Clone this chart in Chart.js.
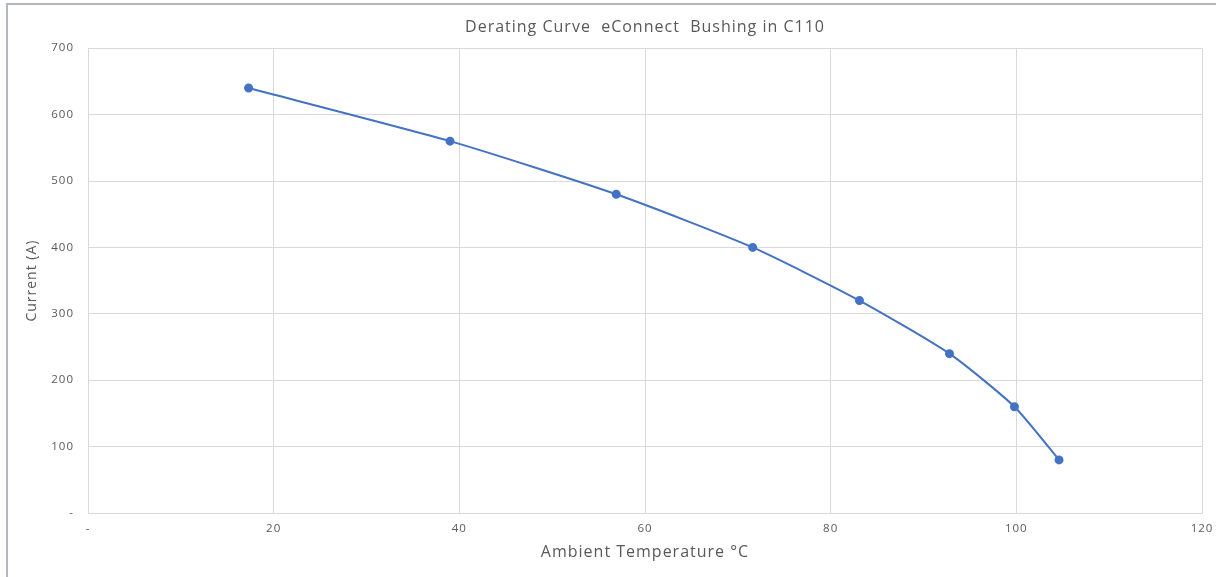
<!DOCTYPE html>
<html>
<head>
<meta charset="utf-8">
<script src="https://cdn.jsdelivr.net/npm/chart.js@4"></script>
<style>
    html, body { margin: 0; padding: 0; background: #fff; overflow: hidden; }
    #frame { position: absolute; left: 6px; top: 3px; width: 1240px; height: 600px; border-left: 2px solid #b4b8be; border-top: 2px solid #b4b8be; }
    #wrap { position: absolute; left: 0; top: 0; width: 1216px; height: 577px; }
</style>
</head>
<body>
<div id="frame"></div>
<div id="wrap"><canvas id="visualChart"></canvas></div>
<script>
const temperatures = [17.3, 39.0, 56.9, 71.6, 83.1, 92.8, 99.8, 104.6];
const currents = [640, 560, 480, 400, 320, 240, 160, 80];
const chartTitle = "Derating Curve  eConnect  Bushing in C110";
const xTitle = "Ambient Temperature °C";
const yTitle = "Current (A)";

const fontFamily = "'Open Sans', sans-serif";
const textColor = '#595959';
const gridColor = '#d9d9d9';

const points = temperatures.map((t, i) => ({ x: t, y: currents[i] }));

const dashZero = (value) => value === 0 ? '-' : value;

// the original text is drawn quite wide, so spread the letters a bit
// (canvas resize wipes the context state, so set it again before layout and draw)
const spacing = {
    id: 'spacing',
    beforeUpdate: (chart) => { chart.ctx.letterSpacing = '1px'; },
    beforeDraw: (chart) => { chart.ctx.letterSpacing = '1px'; }
};

const chartBlock = document.querySelector('#visualChart').getContext('2d');

const chart = new Chart(chartBlock, {
    type: 'line',
    plugins: [spacing],
    data: {
        datasets: [
            {
                label: "Current",
                data: points,
                borderColor: '#4472c4',
                backgroundColor: '#4472c4',
                borderWidth: 2,
                pointRadius: 3.5,
                pointHoverRadius: 3.5,
                tension: 0.2,
                fill: false
            }
        ]
    },
    options: {
        responsive: true,
        maintainAspectRatio: false,
        animation: false,
        layout: { padding: { left: 24, right: 14, top: 0, bottom: 15 } },
        plugins: {
            legend: { display: false },
            tooltip: { enabled: false },
            title: {
                display: true,
                fullSize: false,
                text: chartTitle,
                color: textColor,
                font: { family: fontFamily, size: 16, weight: 'normal' },
                padding: { top: 18, bottom: 11 }
            }
        },
        scales: {
            x: {
                type: 'linear',
                min: 0,
                max: 120,
                ticks: {
                    stepSize: 20,
                    color: textColor,
                    padding: 9,
                    font: { family: fontFamily, size: 11.5 },
                    callback: dashZero
                },
                grid: { color: gridColor, drawTicks: false },
                border: { color: gridColor },
                title: {
                    display: true,
                    text: xTitle,
                    color: textColor,
                    font: { family: fontFamily, size: 16 },
                    padding: { top: 6, bottom: 0 }
                },
                afterFit: (scale) => {
                    scale.height = 49;
                    scale.paddingRight = 0;
                }
            },
            y: {
                type: 'linear',
                min: 0,
                max: 700,
                ticks: {
                    stepSize: 100,
                    color: textColor,
                    padding: 14,
                    font: { family: fontFamily, size: 11.5 },
                    callback: dashZero
                },
                grid: { color: gridColor, drawTicks: false },
                border: { color: gridColor },
                title: {
                    display: true,
                    text: yTitle,
                    color: textColor,
                    font: { family: fontFamily, size: 14 },
                    padding: { top: 0, bottom: 0 }
                },
                afterFit: (scale) => { scale.width = 64; }
            }
        }
    }
});
</script>
</body>
</html>
